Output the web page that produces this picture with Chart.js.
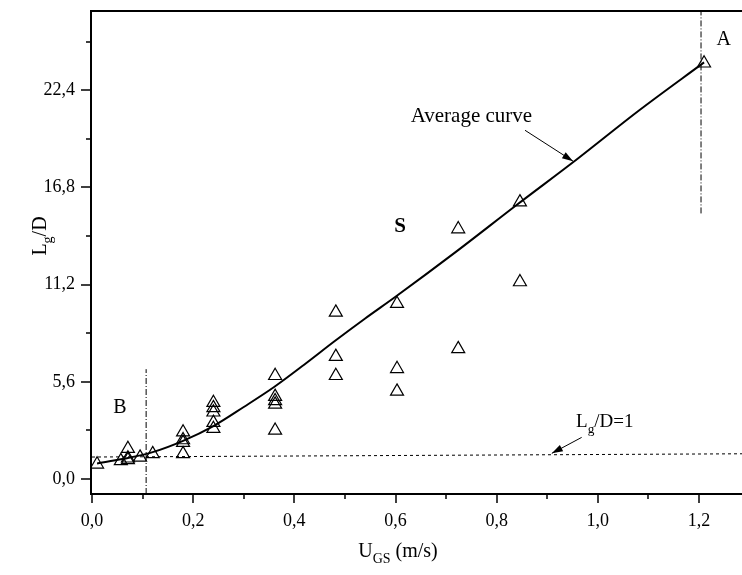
<!DOCTYPE html>
<html>
<head>
<meta charset="utf-8">
<script src="https://cdn.jsdelivr.net/npm/chart.js@4/dist/chart.umd.min.js"></script>
<style>
  html, body { margin: 0; padding: 0; background: #fff; }
  #wrap { width: 742px; height: 575px; overflow: hidden; }
</style>
</head>
<body>
<div id="wrap"><canvas id="c" width="742" height="575"></canvas></div>
<script>
// measured points (U_GS, Lg/D)
const ugs = [0.01, 0.057, 0.071, 0.071, 0.071, 0.095, 0.12,
             0.18, 0.18, 0.18, 0.18,
             0.24, 0.24, 0.24, 0.24, 0.24,
             0.362, 0.362, 0.362, 0.362, 0.362,
             0.482, 0.482, 0.482,
             0.603, 0.603, 0.603,
             0.724, 0.724,
             0.846, 0.846,
             1.21];
const lgd = [0.85, 1.05, 1.1, 1.2, 1.75, 1.25, 1.45,
             2.7, 2.25, 2.1, 1.45,
             4.4, 4.1, 3.85, 3.25, 2.9,
             5.95, 4.75, 4.5, 4.3, 2.8,
             9.6, 7.05, 5.95,
             10.1, 6.35, 5.05,
             14.4, 7.5,
             15.95, 11.35,
             23.95];

// average curve
const curveX = [0.01, 0.06, 0.12, 0.18, 0.24, 0.30, 0.36, 0.42, 0.48, 0.54, 0.60, 0.72, 0.84, 0.96, 1.08, 1.21];
const curveY = [0.9, 1.15, 1.55, 2.2, 3.05, 4.15, 5.3, 6.6, 7.95, 9.25, 10.5, 13.1, 15.8, 18.45, 21.2, 24.0];

// reference lines
const oneLineX = [0, 1.31];
const oneLineY = [1.27, 1.46];
const lineBX = [0.107, 0.107];
const lineBY = [-0.86, 6.33];
const lineAX = [1.204, 1.204];
const lineAY = [15.3, 26.96];

// ticks
const xTickVals = [0, 0.2, 0.4, 0.6, 0.8, 1.0, 1.2];
const xMinorVals = [0.1, 0.3, 0.5, 0.7, 0.9, 1.1];
const yTickVals = [0, 5.6, 11.2, 16.8, 22.4];
const yMinorVals = [2.8, 8.4, 14.0, 19.6, 25.2];

// text notes in data coordinates
const notes = [
  { parts: [['A']], x: 1.249, y: 24.99, align: 'center', size: 20 },
  { parts: [['B']], x: 0.055, y: 3.8, align: 'center', size: 20 },
  { parts: [['S']], x: 0.609, y: 14.22, align: 'center', size: 21, bold: true },
  { parts: [['Average curve']], x: 0.63, y: 20.55, align: 'left', size: 21 },
  { parts: [['L'], ['g', 1], ['/D=1']], x: 0.957, y: 3.01, align: 'left', size: 19 }
];
const arrows = [
  { x0: 0.856, y0: 20.09, x1: 0.951, y1: 18.31 },
  { x0: 0.968, y0: 2.40, x1: 0.909, y1: 1.48 }
];

const FONT = '"Liberation Serif", "Times New Roman", serif';
const fmt = v => v.toFixed(1).replace('.', ',');
const pts = (xs, ys) => xs.map((x, i) => ({ x: x, y: ys[i] }));

function partsWidth(ctx, parts, size, bold) {
  let w = 0;
  parts.forEach(p => {
    ctx.font = (bold ? 'bold ' : '') + (p[1] ? size * 0.7 : size) + 'px ' + FONT;
    w += ctx.measureText(p[0]).width;
  });
  return w;
}
function drawParts(ctx, parts, x, y, size, bold, align) {
  let cx = x;
  const w = partsWidth(ctx, parts, size, bold);
  if (align === 'center') cx = x - w / 2;
  ctx.textAlign = 'left';
  ctx.textBaseline = 'alphabetic';
  parts.forEach(p => {
    const s = p[1] ? size * 0.7 : size;
    ctx.font = (bold ? 'bold ' : '') + s + 'px ' + FONT;
    ctx.fillText(p[0], cx, p[1] ? y + size * 0.3 : y);
    cx += ctx.measureText(p[0]).width;
  });
}
function arrow(ctx, x0, y0, x1, y1) {
  ctx.beginPath(); ctx.moveTo(x0, y0); ctx.lineTo(x1, y1); ctx.stroke();
  const a = Math.atan2(y1 - y0, x1 - x0), L = 11, W = 3.5;
  ctx.beginPath();
  ctx.moveTo(x1, y1);
  ctx.lineTo(x1 - L * Math.cos(a) + W * Math.sin(a), y1 - L * Math.sin(a) - W * Math.cos(a));
  ctx.lineTo(x1 - L * Math.cos(a) - W * Math.sin(a), y1 - L * Math.sin(a) + W * Math.cos(a));
  ctx.closePath(); ctx.fill();
}

const decor = {
  id: 'decor',
  afterDraw(chart) {
    const ctx = chart.ctx, a = chart.chartArea;
    const xs = chart.scales.x, ys = chart.scales.y;
    ctx.save();
    ctx.strokeStyle = '#000'; ctx.fillStyle = '#000';
    // frame
    ctx.lineWidth = 2;
    ctx.beginPath();
    ctx.moveTo(chart.width, a.top); ctx.lineTo(a.left, a.top);
    ctx.lineTo(a.left, a.bottom); ctx.lineTo(chart.width, a.bottom);
    ctx.stroke();
    // tick marks
    ctx.lineWidth = 1.5;
    ctx.beginPath();
    xTickVals.forEach(v => { const p = Math.round(xs.getPixelForValue(v)); ctx.moveTo(p, a.bottom); ctx.lineTo(p, a.bottom + 9); });
    xMinorVals.forEach(v => { const p = Math.round(xs.getPixelForValue(v)); ctx.moveTo(p, a.bottom); ctx.lineTo(p, a.bottom + 5); });
    yTickVals.forEach(v => { const p = Math.round(ys.getPixelForValue(v)); ctx.moveTo(a.left, p); ctx.lineTo(a.left - 10, p); });
    yMinorVals.forEach(v => { const p = Math.round(ys.getPixelForValue(v)); ctx.moveTo(a.left, p); ctx.lineTo(a.left - 5, p); });
    ctx.stroke();
    // notes
    notes.forEach(n => drawParts(ctx, n.parts, xs.getPixelForValue(n.x), ys.getPixelForValue(n.y), n.size, n.bold, n.align));
    // arrows
    ctx.lineWidth = 1;
    arrows.forEach(r => arrow(ctx, xs.getPixelForValue(r.x0), ys.getPixelForValue(r.y0), xs.getPixelForValue(r.x1), ys.getPixelForValue(r.y1)));
    // axis titles
    drawParts(ctx, [['U'], ['GS', 1], [' (m/s)']], 398, 557, 20, false, 'center');
    ctx.translate(46, 236);
    ctx.rotate(-Math.PI / 2);
    drawParts(ctx, [['L'], ['g', 1], ['/D']], 0, 0, 20, false, 'center');
    ctx.restore();
  }
};

new Chart(document.getElementById('c'), {
  type: 'scatter',
  data: {
    datasets: [
      { data: pts(ugs, lgd), pointStyle: 'triangle', pointRadius: 7.5, pointHoverRadius: 7.5,
        borderColor: '#000', backgroundColor: 'rgba(0,0,0,0)', borderWidth: 1.2, order: 1 },
      { type: 'line', data: pts(curveX, curveY), borderColor: '#000', borderWidth: 2,
        pointRadius: 0, cubicInterpolationMode: 'monotone', fill: false, order: 2 },
      { type: 'line', data: pts(oneLineX, oneLineY), borderColor: '#000', borderWidth: 1,
        borderDash: [3, 3], pointRadius: 0, fill: false, order: 3 },
      { type: 'line', data: pts(lineBX, lineBY), borderColor: '#000', borderWidth: 1,
        borderDash: [6, 2, 1, 2], pointRadius: 0, fill: false, order: 3 },
      { type: 'line', data: pts(lineAX, lineAY), borderColor: '#000', borderWidth: 1,
        borderDash: [6, 2, 1, 2], pointRadius: 0, fill: false, order: 3 }
    ]
  },
  options: {
    responsive: false,
    animation: false,
    devicePixelRatio: 1,
    layout: { autoPadding: false, padding: { top: 11, right: 0, left: 0, bottom: 0 } },
    plugins: { legend: { display: false }, tooltip: { enabled: false } },
    scales: {
      x: {
        type: 'linear', min: -0.002, max: 1.285,
        afterBuildTicks: s => { s.ticks = xTickVals.map(v => ({ value: v })); },
        afterFit: s => { s.height = 81; s.paddingLeft = 0; s.paddingRight = 0; },
        grid: { display: false, drawTicks: false },
        border: { display: false },
        ticks: { callback: v => fmt(v), color: '#000', font: { family: FONT, size: 18 },
                 padding: 16, maxRotation: 0, autoSkip: false }
      },
      y: {
        type: 'linear', min: -0.86, max: 26.96,
        afterBuildTicks: s => { s.ticks = yTickVals.map(v => ({ value: v })); },
        afterFit: s => { s.width = 91; s.paddingTop = 0; s.paddingBottom = 0; },
        grid: { display: false, drawTicks: false },
        border: { display: false },
        ticks: { callback: v => fmt(v), color: '#000', font: { family: FONT, size: 18 },
                 padding: 16, autoSkip: false }
      }
    }
  },
  plugins: [decor]
});
</script>
</body>
</html>
